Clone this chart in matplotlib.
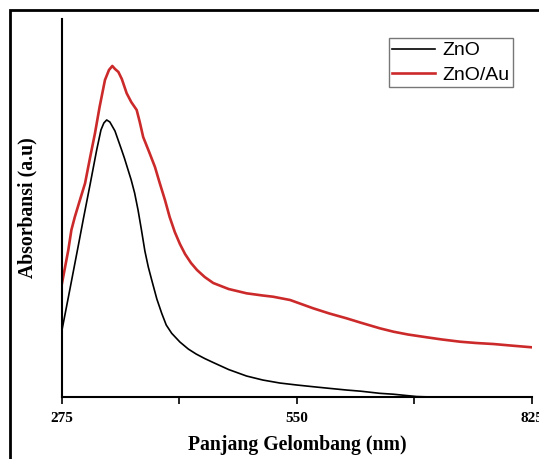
import numpy as np
import matplotlib
matplotlib.use('Agg')
import matplotlib.pyplot as plt
from matplotlib.patches import Rectangle

# wavelength (nm) and absorbance (arbitrary units)
wl_zno = [275, 285, 294, 300, 308, 315.6, 320.6, 324, 327.3, 331, 337, 344.8, 348, 352, 356,
          360, 364, 368, 372, 376, 380, 386, 391.7, 397, 403.4, 413, 422.8, 432, 442, 452,
          470, 491, 510, 530, 550, 569, 590, 608, 625, 647, 663, 677, 690, 705, 740]
ab_zno = [67, 111, 151, 178, 213, 247, 267, 274, 277, 275, 266, 247, 239, 228, 217,
          204, 187, 167, 146, 130, 117, 98, 83.7, 72, 63.7, 55, 48, 43, 38.5, 34.5,
          27.5, 21, 17, 14, 12, 10.3, 8.5, 7, 5.8, 3.7, 2.8, 1.6, 0.5, 0.1, 0]

wl_au = [275, 282.4, 286, 290, 296, 302, 308, 313.6, 319, 325.3, 330, 333.9, 337, 341, 345,
         350.7, 356, 362.4, 366, 370, 377, 383.8, 389, 395.5, 401, 407, 413, 419, 426, 433,
         442, 452, 470, 491, 510, 522, 542, 555, 569, 588, 608, 624, 647, 663, 680, 702,
         720, 741, 760, 780, 800, 825]
ab_au = [113.7, 147, 167, 180, 197, 213.7, 240, 263.7, 290, 317, 327, 331, 328, 325, 318,
         303.7, 295, 287, 275, 260, 245, 230, 215, 197, 180, 165, 153, 143, 134, 127,
         120, 114, 108, 103.7, 101.5, 100.3, 97, 93, 88.7, 83.5, 78.7, 74.5, 68.7, 65.3, 62.5, 59.7,
         57.5, 55.3, 54, 53, 51.5, 49.7]

xticks_major = [275, 550, 825]
xticks_minor = [412.5, 687.5]

fig = plt.figure(figsize=(5.39, 4.59), dpi=100)
ax = fig.add_axes([0.115, 0.135, 0.872, 0.8237])

ax.plot(wl_zno, ab_zno, color='black', lw=1.2, label='ZnO')
ax.plot(wl_au, ab_au, color='#cc2a2a', lw=1.9, label='ZnO/Au')

ax.set_xlim(275, 825)
ax.set_ylim(0, 378)
ax.spines['top'].set_visible(False)
ax.spines['right'].set_visible(False)
ax.spines['left'].set_linewidth(1.5)
ax.spines['bottom'].set_linewidth(1.5)
ax.set_yticks([])
ax.set_xticks(xticks_major)
ax.set_xticks(xticks_minor, minor=True)
ax.tick_params(axis='x', which='both', direction='out', length=5, width=1.2, pad=6)
for lab in ax.get_xticklabels():
    lab.set_fontfamily('Liberation Serif')
    lab.set_fontweight('bold')
    lab.set_fontsize(11)

ax.set_xlabel('Panjang Gelombang (nm)', fontfamily='Liberation Serif',
              fontweight='bold', fontsize=14.2, labelpad=7)
ax.set_ylabel('Absorbansi (a.u)', fontfamily='Liberation Serif',
              fontweight='bold', fontsize=14.2, labelpad=18)

leg = ax.legend(loc='upper right', bbox_to_anchor=(0.9596, 0.9497), frameon=True, fancybox=False,
                prop={'family': 'Liberation Sans', 'size': 14}, handlelength=2.2,
                handletextpad=0.35, borderpad=0.2, labelspacing=0.33, borderaxespad=0)
leg.get_frame().set_edgecolor('#555555')
leg.get_frame().set_linewidth(1.0)

# outer frame of the picture
fig.patches.append(Rectangle((10 / 539, -0.2), 1.2, 1.2 - 10 / 459, transform=fig.transFigure,
                             fill=False, edgecolor='black', lw=2.0))

fig.savefig('out.png', dpi=100)
